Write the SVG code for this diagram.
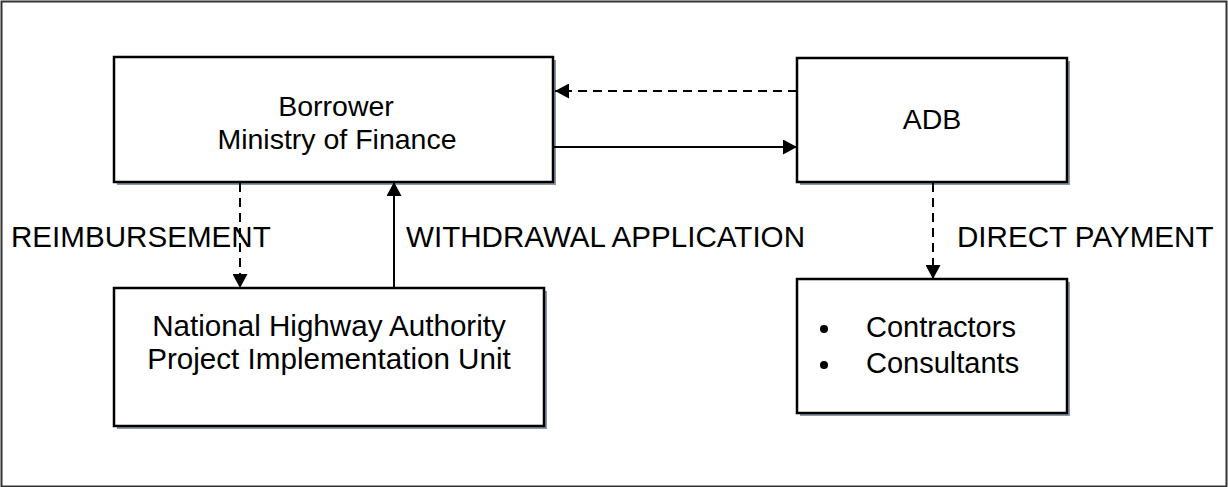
<svg xmlns="http://www.w3.org/2000/svg" width="1228" height="487" viewBox="0 0 1228 487">
<defs>
<style>
.box{fill:#fff;stroke:#000;stroke-width:2.5}
.shadow{fill:#8a97a8}
.t{font-family:"Liberation Sans",Arial,sans-serif;font-size:29px;fill:#000}
.lbl{font-size:29.6px}
.c{text-anchor:middle}
.ln{stroke:#000;stroke-width:2;fill:none}
.dash{stroke-dasharray:9,6}
</style>
<marker id="ah" viewBox="0 0 14 15" refX="14" refY="7.5" markerWidth="14" markerHeight="15" markerUnits="userSpaceOnUse" orient="auto">
<path d="M0,0 L14,7.5 L0,15 Z" fill="#000"/>
</marker>
</defs>
<rect width="1228" height="487" fill="#fff"/>
<rect x="1.5" y="1.5" width="1225" height="485" fill="none" stroke="#333" stroke-width="2"/>

<g id="borrower">
<rect class="shadow" x="117" y="60" width="439" height="125"/>
<rect class="box" x="114" y="57" width="439" height="125"/>
<text class="t c" x="336" y="116" style="font-size:28.5px">Borrower</text>
<text class="t c" x="337" y="149" style="font-size:28.5px">Ministry of Finance</text>
</g>

<g id="adb">
<rect class="shadow" x="800" y="61" width="270" height="124"/>
<rect class="box" x="797" y="58" width="270" height="124"/>
<text class="t c" x="932" y="129" style="font-size:28.5px">ADB</text>
</g>

<g id="nha">
<rect class="shadow" x="117" y="291" width="430" height="138"/>
<rect class="box" x="114" y="288" width="430" height="138"/>
<text class="t c lbl" x="329" y="336">National Highway Authority</text>
<text class="t c lbl" x="329" y="369">Project Implementation Unit</text>
</g>

<g id="contractors">
<rect class="shadow" x="800" y="282" width="270" height="134"/>
<rect class="box" x="797" y="279" width="270" height="134"/>
<circle cx="824" cy="329" r="4"/>
<circle cx="824" cy="365" r="4"/>
<text class="t" x="866" y="337">Contractors</text>
<text class="t" x="866" y="373">Consultants</text>
</g>

<g id="connectors">
<line class="ln dash" x1="797" y1="91" x2="555" y2="91" marker-end="url(#ah)"/>
<line class="ln" x1="553" y1="147" x2="797" y2="147" marker-end="url(#ah)"/>
<line class="ln dash" x1="240" y1="183" x2="240" y2="288" marker-end="url(#ah)"/>
<line class="ln" x1="394" y1="288" x2="394" y2="182" marker-end="url(#ah)"/>
<line class="ln dash" x1="933" y1="183" x2="933" y2="279" marker-end="url(#ah)"/>
<text class="t lbl" x="11" y="247">REIMBURSEMENT</text>
<text class="t lbl" x="406" y="247">WITHDRAWAL APPLICATION</text>
<text class="t lbl" x="957" y="247">DIRECT PAYMENT</text>
</g>
</svg>
